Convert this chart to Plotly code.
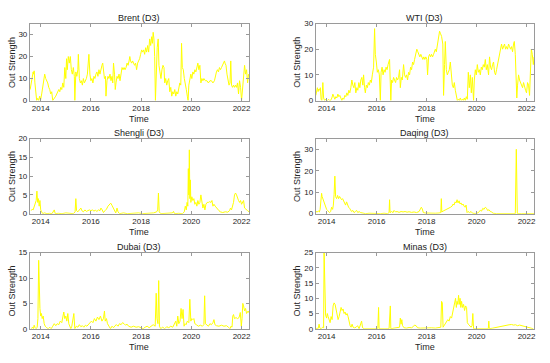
import plotly.graph_objects as go

# ---------------- data (decimal years, out strength) ----------------
brent_t = [2013.58,2013.62,2013.66,2013.70,2013.72,2013.74,2013.77,2013.80,2013.84,2013.88,2013.92,2013.96,2014.00,2014.04,2014.08,2014.12,2014.16,2014.20,2014.24,2014.28,2014.32,2014.36,2014.40,2014.44,2014.48,2014.52,2014.56,2014.60,2014.64,2014.68,2014.72,2014.76,2014.80,2014.84,2014.88,2014.92,2014.96,2015.00,2015.03,2015.06,2015.10,2015.14,2015.18,2015.22,2015.26,2015.30,2015.34,2015.36,2015.40,2015.44,2015.48,2015.50,2015.54,2015.58,2015.62,2015.66,2015.70,2015.74,2015.78,2015.82,2015.86,2015.92,2015.96,2016.00,2016.04,2016.08,2016.12,2016.16,2016.20,2016.24,2016.28,2016.32,2016.36,2016.40,2016.44,2016.47,2016.50,2016.54,2016.58,2016.60,2016.64,2016.68,2016.72,2016.76,2016.80,2016.84,2016.87,2016.90,2016.94,2016.97,2017.00,2017.04,2017.08,2017.12,2017.16,2017.20,2017.24,2017.28,2017.32,2017.36,2017.40,2017.44,2017.48,2017.52,2017.55,2017.58,2017.62,2017.66,2017.70,2017.74,2017.78,2017.82,2017.86,2017.90,2017.94,2017.98,2018.02,2018.06,2018.10,2018.14,2018.18,2018.22,2018.26,2018.30,2018.34,2018.38,2018.42,2018.45,2018.48,2018.51,2018.54,2018.57,2018.60,2018.64,2018.68,2018.71,2018.75,2018.79,2018.83,2018.87,2018.91,2018.94,2018.98,2019.02,2019.06,2019.10,2019.14,2019.18,2019.22,2019.26,2019.30,2019.34,2019.38,2019.42,2019.46,2019.50,2019.54,2019.58,2019.61,2019.64,2019.68,2019.72,2019.76,2019.80,2019.84,2019.87,2019.90,2019.94,2019.98,2020.02,2020.06,2020.10,2020.14,2020.18,2020.22,2020.26,2020.30,2020.34,2020.38,2020.42,2020.46,2020.50,2020.56,2020.62,2020.68,2020.74,2020.80,2020.86,2020.92,2020.96,2021.00,2021.04,2021.08,2021.12,2021.16,2021.20,2021.24,2021.28,2021.32,2021.34,2021.38,2021.42,2021.46,2021.50,2021.54,2021.57,2021.60,2021.64,2021.68,2021.72,2021.76,2021.80,2021.84,2021.88,2021.92,2021.96,2022.00,2022.04,2022.08,2022.12,2022.16,2022.20,2022.24,2022.28]
brent_v = [5,8,10,13,12,13.5,8,3,0,1,0,2,0.5,3,6,10,12,10,9,8,6,5,3,4,0,0.5,1,2,3,4,5,4,6,5,8,6,15,10,19,14,20,17,20,14,12,15,11,0,13,11,14,21,10,8,9,7,10,8,9,10,12,21,12,9,10,8,11,10,12,13,11,14,12,15,16,17,13,10,11,2,9,11,10,12,9,11,8,17,12,5,8,11,10,12,9,13,15,14,15,14,15,17,16,18,20,18,17,18,17,16,17,14,17,18,19,21,23,22,23,21,24,22,25,22,28,25,29,26,31,28,20,0,14,24,28,16,13,10,14,16,15,8,10,7,9,10,4,6,2,4,3,5,2,4,3,5,8,7,26,15,14,10,8,5,2,0,7,10,12,10,13,12,14,13,15,17,14,16,8,10,9,10,9,9,8,9,9,8,9,12,13,14,13,15,14,15,16,17,18,17,16,12,10,7,8,18,7,6,7,6,7,6,8,3,9,6,0,5,10,16,12,14,8,12]

wti_t = [2013.57,2013.60,2013.63,2013.66,2013.69,2013.72,2013.75,2013.78,2013.81,2013.85,2013.88,2013.92,2013.96,2014.00,2014.04,2014.08,2014.12,2014.16,2014.21,2014.25,2014.29,2014.33,2014.37,2014.41,2014.45,2014.49,2014.53,2014.57,2014.61,2014.65,2014.69,2014.73,2014.77,2014.81,2014.85,2014.89,2014.93,2014.97,2015.01,2015.05,2015.09,2015.13,2015.17,2015.21,2015.25,2015.29,2015.33,2015.37,2015.41,2015.45,2015.48,2015.52,2015.55,2015.59,2015.63,2015.67,2015.71,2015.75,2015.79,2015.83,2015.88,2015.92,2015.95,2015.99,2016.03,2016.07,2016.11,2016.15,2016.18,2016.22,2016.26,2016.30,2016.34,2016.38,2016.42,2016.46,2016.52,2016.57,2016.60,2016.64,2016.68,2016.72,2016.76,2016.80,2016.84,2016.88,2016.92,2016.95,2016.99,2017.03,2017.08,2017.12,2017.16,2017.20,2017.24,2017.28,2017.32,2017.36,2017.40,2017.44,2017.48,2017.52,2017.56,2017.61,2017.65,2017.69,2017.73,2017.77,2017.81,2017.85,2017.89,2017.93,2017.97,2018.01,2018.04,2018.08,2018.12,2018.16,2018.20,2018.24,2018.28,2018.32,2018.35,2018.39,2018.43,2018.47,2018.52,2018.56,2018.60,2018.65,2018.68,2018.72,2018.75,2018.79,2018.83,2018.87,2018.91,2018.95,2018.99,2019.03,2019.07,2019.11,2019.15,2019.19,2019.23,2019.27,2019.31,2019.35,2019.39,2019.43,2019.47,2019.51,2019.55,2019.59,2019.63,2019.67,2019.71,2019.75,2019.79,2019.83,2019.88,2019.91,2019.95,2019.99,2020.03,2020.07,2020.11,2020.15,2020.19,2020.23,2020.27,2020.31,2020.35,2020.39,2020.43,2020.48,2020.52,2020.56,2020.60,2020.64,2020.68,2020.72,2020.76,2020.80,2020.84,2020.88,2020.92,2020.96,2021.00,2021.04,2021.08,2021.12,2021.16,2021.20,2021.24,2021.28,2021.32,2021.36,2021.40,2021.44,2021.48,2021.51,2021.55,2021.58,2021.61,2021.64,2021.68,2021.72,2021.76,2021.80,2021.84,2021.88,2021.92,2021.96,2022.00,2022.04,2022.08,2022.12,2022.15,2022.19,2022.23,2022.27,2022.30]
wti_v = [2,4,5,3.5,4.5,4,5,0.5,0,7,1,0,0.5,0,0,0.5,0,0,1,2.5,1,0.5,1.5,1,2.5,1.5,2,0.5,0,1,0.5,2,1.5,3,2,4,3,5,8,6,5,7,3,5,4,7,5,8,9,6,10,5,3,6,5,7,6,8,7,10,13,28,18,15,11,12,10,0,11,13,10,12,11,13,12,14,16,0,8,7,9,8,7,9,8,9,12,5,9,8,14,10,9,10,8,11,10,13,12,15,14,16,18,20,19,18,17,18,17,16,17,16,17,16,10,17,18,17,18,17,18,19,20,19,21,24,27,26,25,22,2,14,23,12,10,11,12,15,8,6,5,7,4,1,0,0.5,0,1,0,0.5,0,1,0,1.5,0.5,11,5,10,3,9,0,8,12,10,14,11,12,10,13,12,14,13,16,12,14,10,17,13,12,14,15,11,10,12,14,16,18,20,22,20,21,22,20,21,20,22,21,20,21,19,22,23,18,10,1,6,10,8,7,6,5,7,5,4,3,7,6,2,10,20,18,14,17]

shengli_t = [2013.62,2013.66,2013.70,2013.74,2013.78,2013.82,2013.85,2013.88,2013.91,2013.94,2013.97,2014.00,2014.04,2014.08,2014.15,2014.25,2014.35,2014.45,2014.54,2014.58,2014.70,2014.85,2015.00,2015.15,2015.30,2015.37,2015.40,2015.43,2015.48,2015.54,2015.60,2015.64,2015.70,2015.76,2015.82,2015.88,2015.94,2016.00,2016.06,2016.12,2016.18,2016.24,2016.30,2016.36,2016.40,2016.45,2016.50,2016.56,2016.62,2016.68,2016.74,2016.79,2016.84,2016.90,2016.95,2016.99,2017.04,2017.08,2017.14,2017.30,2017.45,2017.60,2017.75,2017.90,2018.05,2018.20,2018.35,2018.50,2018.62,2018.66,2018.69,2018.72,2018.78,2018.95,2019.10,2019.25,2019.29,2019.33,2019.50,2019.65,2019.72,2019.76,2019.80,2019.83,2019.86,2019.88,2019.90,2019.92,2019.94,2019.96,2019.98,2020.02,2020.06,2020.10,2020.14,2020.18,2020.22,2020.26,2020.30,2020.34,2020.38,2020.42,2020.46,2020.50,2020.54,2020.58,2020.63,2020.68,2020.73,2020.78,2020.82,2020.86,2020.90,2020.95,2021.00,2021.05,2021.10,2021.15,2021.25,2021.35,2021.45,2021.52,2021.56,2021.60,2021.64,2021.68,2021.72,2021.76,2021.80,2021.84,2021.88,2021.92,2021.96,2022.00,2022.04,2022.08,2022.12,2022.18,2022.24,2022.30]
shengli_v = [0.8,1.2,1,1.8,2.5,3.5,6,3,4,2,3.5,1,0.5,0,0.2,0,0.1,0,1,0,0.1,0,0.2,0,0,0.5,4,0.8,0.5,1,1.5,0.8,0.5,1,0.6,0.8,1,0.8,1,0.7,0.9,0.6,1,0.8,1.5,1,0.3,0.8,1.2,2,2.5,2.8,2.2,1.5,1,0.2,1.5,0.5,0,0.2,0,0.1,0,0.2,0,0.1,0.3,0.2,0.5,1,5.5,0.5,0,0.1,0,0.2,0.6,0,0.1,0,0.5,2,1,3,2,12,5,17,4,9,3,4.5,3.5,4,2.5,3,2,3.5,2.5,3,5,3,1.5,2.5,1,2.5,3,3,3.2,3,3.5,2,2.5,2,1.5,1,0.8,0.5,0.3,0.5,0.4,0.8,1.5,1,2,3,5,5.5,5,4,3.5,3,3.5,2.5,3,3.5,1.5,1,0.8,0.5]

daqing_t = [2013.57,2013.62,2013.67,2013.71,2013.74,2013.77,2013.80,2013.82,2013.85,2013.88,2013.92,2013.96,2014.00,2014.04,2014.08,2014.12,2014.16,2014.20,2014.24,2014.27,2014.30,2014.33,2014.36,2014.40,2014.44,2014.48,2014.52,2014.56,2014.60,2014.64,2014.68,2014.72,2014.76,2014.80,2014.84,2014.88,2014.92,2014.96,2015.00,2015.05,2015.10,2015.15,2015.20,2015.25,2015.30,2015.36,2015.45,2015.56,2015.70,2015.85,2016.00,2016.15,2016.30,2016.45,2016.50,2016.52,2016.54,2016.60,2016.66,2016.70,2016.76,2016.82,2016.90,2016.98,2017.06,2017.14,2017.22,2017.30,2017.40,2017.50,2017.60,2017.70,2017.75,2017.79,2017.83,2017.87,2017.95,2018.05,2018.20,2018.35,2018.50,2018.57,2018.59,2018.61,2018.66,2018.72,2018.78,2018.84,2018.90,2018.96,2019.02,2019.06,2019.10,2019.14,2019.18,2019.22,2019.26,2019.30,2019.34,2019.38,2019.42,2019.46,2019.50,2019.54,2019.58,2019.62,2019.66,2019.72,2019.78,2019.84,2019.95,2020.05,2020.10,2020.15,2020.20,2020.25,2020.30,2020.35,2020.40,2020.44,2020.50,2020.55,2020.60,2020.66,2020.80,2021.00,2021.20,2021.40,2021.55,2021.59,2021.61,2021.63,2021.80,2022.00,2022.20,2022.30]
daqing_v = [1,0.8,1.2,0.8,2,6,9.5,8,7,5,4,3,2,1.5,1,0.5,1,3,2,4,9,17.5,8,7,8.5,7,8,7,6.5,7,6,5,4,5.5,4,3,2.5,1.5,1,1.5,0.5,1,1.5,0.5,1,0.5,0.3,0,0.2,0,0.1,0,0.2,0,0.5,6.5,0.5,1,0.5,1.5,0.8,1,0.6,1,0.8,1,0.7,0.9,0.6,0.8,0.5,1,2,3,2.2,0.5,0.3,0.2,0.3,0.2,0.3,0.5,7,0.8,1.2,1.5,2,2.2,2.5,3,3.5,4.5,4,5.5,5,6.5,5,6,4.5,5,4,4.5,3.5,3,4,0.5,1,0.5,1,0.2,0.1,0.3,1,1.5,1.2,2.5,2,3,2.5,1.5,1.8,1,0.8,0.2,0,0,0,0,0,30,12,0,0,0,0,0]

dubai_t = [2013.63,2013.67,2013.71,2013.74,2013.78,2013.82,2013.86,2013.89,2013.92,2013.94,2013.97,2014.00,2014.03,2014.06,2014.10,2014.14,2014.18,2014.24,2014.30,2014.36,2014.42,2014.48,2014.54,2014.60,2014.66,2014.72,2014.78,2014.84,2014.88,2014.92,2014.96,2015.00,2015.04,2015.08,2015.12,2015.16,2015.20,2015.24,2015.28,2015.32,2015.36,2015.42,2015.48,2015.54,2015.60,2015.66,2015.72,2015.78,2015.84,2015.90,2015.96,2016.02,2016.08,2016.14,2016.20,2016.26,2016.32,2016.38,2016.44,2016.50,2016.54,2016.57,2016.62,2016.66,2016.72,2016.78,2016.84,2016.90,2016.96,2017.02,2017.08,2017.14,2017.20,2017.26,2017.32,2017.38,2017.44,2017.50,2017.60,2017.70,2017.80,2017.90,2018.00,2018.08,2018.16,2018.24,2018.32,2018.40,2018.48,2018.56,2018.60,2018.63,2018.67,2018.70,2018.73,2018.78,2018.86,2018.94,2019.02,2019.10,2019.18,2019.26,2019.32,2019.38,2019.42,2019.46,2019.50,2019.55,2019.59,2019.63,2019.67,2019.71,2019.75,2019.79,2019.84,2019.90,2019.94,2019.98,2020.02,2020.06,2020.10,2020.14,2020.20,2020.28,2020.36,2020.44,2020.50,2020.53,2020.56,2020.62,2020.68,2020.74,2020.80,2020.86,2020.90,2020.94,2021.00,2021.10,2021.20,2021.30,2021.40,2021.48,2021.54,2021.58,2021.62,2021.65,2021.68,2021.72,2021.78,2021.84,2021.90,2021.95,2021.99,2022.02,2022.05,2022.08,2022.12,2022.16,2022.20,2022.26,2022.32]
dubai_v = [0,0.3,0,0.7,0.2,0,0.3,2,13.5,9,4,2.5,3,2,2.5,1,0.5,0.2,0,0.3,0,0.5,1,0.6,1,0.8,1.5,1.2,2,3.3,2,2.5,1.5,3,1,0.5,0,0.5,2.5,3,0,0.5,0.3,0.8,0.4,0.6,0.3,0.7,0.5,0.8,1,1.5,1.2,2,1.5,2.3,1.8,2.5,1.5,2,3.5,1.5,2,1,0.5,0,0.5,0.2,0.6,0.8,0.5,1,0.8,1.2,1,0.7,0.9,0.5,0.3,0.5,0.3,0.4,0.2,0,0.3,0.5,0.2,0.6,0.8,0.5,7,2,1,9.5,0.5,0,0.3,0,0.4,0.2,0.5,0.3,0.8,1.5,0.5,2.5,1,1.5,4,2,3.8,0.5,1,0.8,1.5,1.2,5.8,1.5,2,1.8,2,1,0.8,0.5,0.7,0.5,0.8,6.5,1,0.8,0.5,1,0.8,1.2,1.8,0.8,0.6,0.5,0.7,0.5,0.6,0.3,0,0.5,0.3,2.5,2.8,2,2.2,2,2.2,3.2,0.5,2,5,4.5,3.5,4,3,3.5,3]

minas_t = [2013.57,2013.62,2013.66,2013.70,2013.73,2013.78,2013.84,2013.88,2013.90,2013.93,2013.96,2014.00,2014.03,2014.06,2014.10,2014.14,2014.18,2014.22,2014.26,2014.30,2014.34,2014.38,2014.42,2014.46,2014.50,2014.54,2014.58,2014.62,2014.66,2014.70,2014.74,2014.78,2014.82,2014.86,2014.90,2014.94,2014.98,2015.02,2015.06,2015.12,2015.18,2015.24,2015.30,2015.36,2015.40,2015.44,2015.50,2015.70,2015.90,2016.05,2016.08,2016.10,2016.30,2016.50,2016.55,2016.57,2016.70,2016.85,2016.92,2016.95,2016.98,2017.01,2017.04,2017.10,2017.20,2017.30,2017.40,2017.48,2017.52,2017.58,2017.64,2017.75,2017.90,2018.05,2018.20,2018.35,2018.50,2018.57,2018.60,2018.63,2018.66,2018.70,2018.75,2018.80,2018.85,2018.90,2018.95,2019.00,2019.04,2019.08,2019.12,2019.16,2019.19,2019.22,2019.25,2019.28,2019.31,2019.34,2019.37,2019.40,2019.44,2019.48,2019.52,2019.56,2019.60,2019.63,2019.67,2019.72,2019.78,2019.82,2019.85,2019.88,2020.00,2020.20,2020.40,2020.47,2020.49,2020.51,2020.65,2020.80,2020.90,2021.00,2021.10,2021.20,2021.30,2021.40,2021.48,2021.56,2021.64,2021.72,2021.80,2021.90,2022.00,2022.10,2022.18,2022.27]
minas_v = [0,0.2,0,1.5,0.2,0,0.5,0.3,25,5,4.5,3.5,5,4,3,2,4,3,7.5,8.5,8,6,5,3,4,5.5,7,6,6.5,5,5.5,4.5,5,4,2,1,0.5,1.5,0.5,0.3,0.5,1,0,2,2.5,0.3,0,0,0,0,7,0,0,0,7.5,0,0.2,0.3,0.5,3.5,1.5,3,1,0.3,0.2,0.4,0.3,0.8,1.2,1,0.3,0.2,0.3,0.2,0.3,0.2,0.3,0.5,9,8.5,0.5,1,1.5,2,3,2.5,4,3.5,5,6,8,10,7,9,8,11,8,10,7,9,7,8,6,7.5,7,2,1.5,1,0.5,1,5,0,0,0,0,0,2.5,0,0.2,0.5,0.6,0.8,1,1.2,1.3,1.4,1.2,1.3,1,1.2,1,0.8,0.6,0.5,0.3,0]

titles = ["Brent (D3)", "WTI (D3)", "Shengli (D3)", "Daqing (D3)", "Dubai (D3)", "Minas (D3)"]
y_max = [35, 30, 20, 35, 15, 25]
y_ticks = [[0, 10, 20, 30], [0, 10, 20, 30], [0, 5, 10, 15, 20],
           [0, 10, 20, 30], [0, 5, 10, 15], [0, 5, 10, 15, 20, 25]]
x_ticks = [2014, 2016, 2018, 2020, 2022]
x_tick_labels = ["2014", "2016", "2018", "2020", "2022"]
x_label = "Time"
y_label = "Out Strength"

series_t = [brent_t, wti_t, shengli_t, daqing_t, dubai_t, minas_t]
series_v = [brent_v, wti_v, shengli_v, daqing_v, dubai_v, minas_v]

# ---------------- layout ----------------
W, H = 550, 363


def px_x(p):
    return p / W


def px_y(p):
    return 1 - p / H


xdom = [[px_x(30), px_x(250)], [px_x(317), px_x(536)]]
ydom = [[px_y(99), px_y(20)], [px_y(215), px_y(138)], [px_y(333), px_y(255)]]
AX_COLOR = "#9a9a9a"
TXT = "#262626"
FONT = "Liberation Sans, Arial, Helvetica, sans-serif"

fig = go.Figure()
annotations = []
for i in range(6):
    r, c = divmod(i, 2)
    n = i + 1
    sfx = "" if n == 1 else str(n)
    fig.add_trace(go.Scatter(
        x=series_t[i], y=series_v[i], mode="lines",
        line=dict(color="#FFFF00", width=1),
        xaxis="x" + sfx, yaxis="y" + sfx,
        showlegend=False, hoverinfo="skip"))
    common = dict(showline=True, linecolor=AX_COLOR, linewidth=1, mirror="ticks",
                  ticks="inside", ticklen=3, tickcolor=AX_COLOR, tickwidth=1,
                  showgrid=False, zeroline=False,
                  tickfont=dict(size=8, color=TXT, family=FONT))
    fig.update_layout({
        "xaxis" + sfx: dict(domain=xdom[c], range=[2013.57, 2022.3], anchor="y" + sfx,
                           tickvals=x_ticks, ticktext=x_tick_labels, **common),
        "yaxis" + sfx: dict(domain=ydom[r], range=[0, y_max[i]], anchor="x" + sfx,
                           tickvals=y_ticks[i], **common),
    })
    xc = (xdom[c][0] + xdom[c][1]) / 2
    annotations.append(dict(text=titles[i], x=xc, y=ydom[r][1], xref="paper", yref="paper",
                            xanchor="center", yanchor="bottom", showarrow=False, yshift=-1,
                            font=dict(size=9, color="#1a1a1a", family=FONT)))
    annotations.append(dict(text=x_label, x=xc, y=ydom[r][0], xref="paper", yref="paper",
                            xanchor="center", yanchor="middle", showarrow=False, yshift=-18,
                            font=dict(size=9, color=TXT, family=FONT)))
    annotations.append(dict(text=y_label, x=xdom[c][0], y=(ydom[r][0] + ydom[r][1]) / 2,
                            xref="paper", yref="paper", xanchor="center", yanchor="middle",
                            showarrow=False, textangle=-90, xshift=-18 - c,
                            font=dict(size=9, color=TXT, family=FONT)))

fig.update_layout(width=W, height=H, margin=dict(l=0, r=0, t=0, b=0),
                  paper_bgcolor="white", plot_bgcolor="white",
                  annotations=annotations, font=dict(family=FONT))
fig.write_html("out.html", config={"displayModeBar": False, "staticPlot": True},
               post_script="document.body.style.margin='0px';document.body.style.overflow='hidden';")
